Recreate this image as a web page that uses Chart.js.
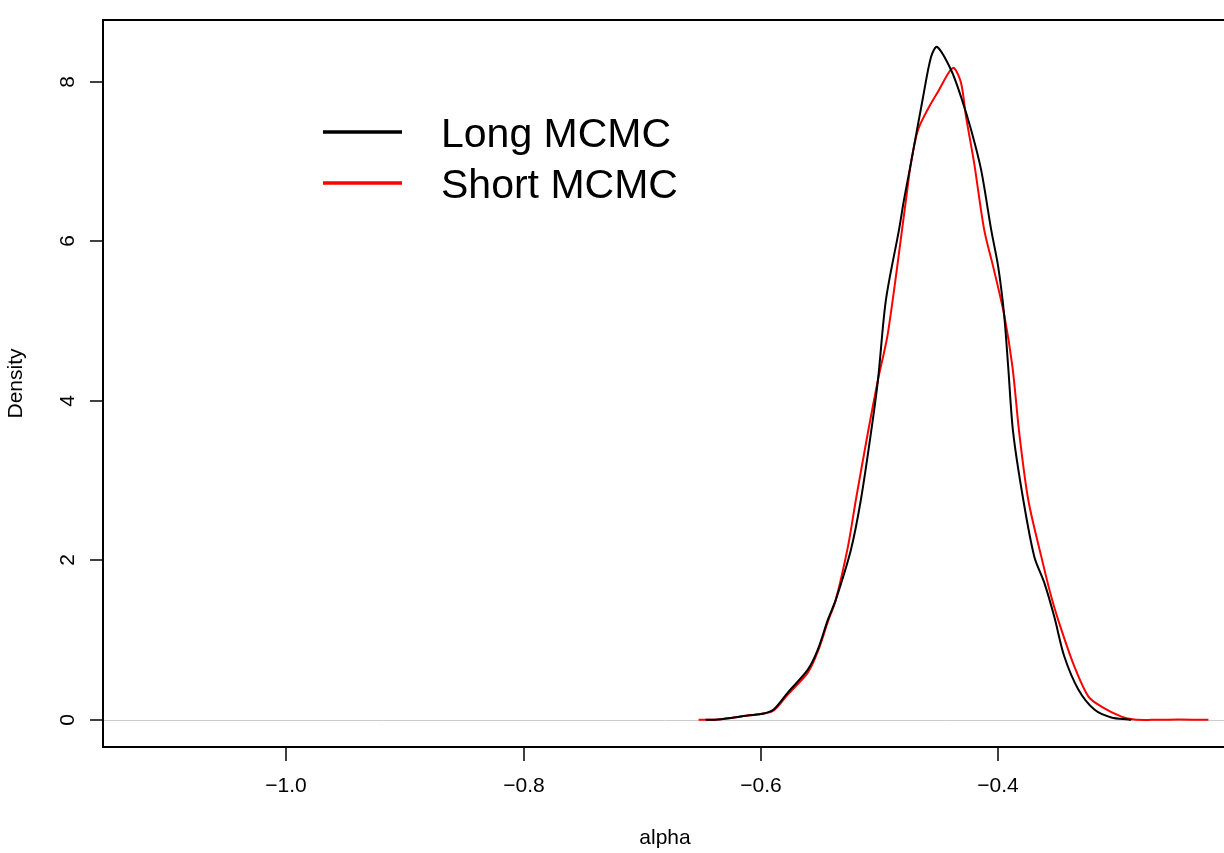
<!DOCTYPE html>
<html>
<head>
<meta charset="utf-8">
<script src="https://cdn.jsdelivr.net/npm/chart.js@4.4.1/dist/chart.umd.min.js"></script>
<style>
  html, body { margin: 0; padding: 0; background: #fff; overflow: hidden; }
  #wrap { position: absolute; left: 0; top: 0; width: 1230px; height: 853px; }
</style>
</head>
<body>
<div id="wrap"><canvas id="c" width="1230" height="853"></canvas></div>
<script>
// ---- data ----
const longAlpha = [-0.6467, -0.6366, -0.6112, -0.5977, -0.5894, -0.5775, -0.5606, -0.5522, -0.5437, -0.5370,
  -0.5243, -0.5159, -0.5074, -0.5015, -0.4948, -0.4838, -0.4796, -0.4737, -0.4635, -0.4568, -0.4517,
  -0.4399, -0.4315, -0.4230, -0.4146, -0.4061, -0.4002, -0.3952, -0.3918, -0.3876, -0.3791, -0.3698,
  -0.3614, -0.3530, -0.3445, -0.3327, -0.3192, -0.3049, -0.2906, -0.2881];
const longDensity = [0, 0.004, 0.054, 0.079, 0.129, 0.342, 0.630, 0.881, 1.257, 1.508,
  2.134, 2.761, 3.601, 4.265, 5.267, 6.145, 6.521, 6.985, 7.812, 8.314, 8.439,
  8.150, 7.812, 7.398, 6.897, 6.145, 5.681, 5.080, 4.428, 3.601, 2.761, 2.047,
  1.721, 1.295, 0.794, 0.381, 0.129, 0.029, 0.004, 0];

const shortAlpha = [-0.6526, -0.6366, -0.6112, -0.5977, -0.5894, -0.5775, -0.5606, -0.5522, -0.5437, -0.5370,
  -0.5268, -0.5201, -0.5100, -0.5015, -0.4931, -0.4779, -0.4737, -0.4678, -0.4585, -0.4501, -0.4416,
  -0.4374, -0.4315, -0.4273, -0.4205, -0.4120, -0.4044, -0.3952, -0.3882, -0.3825, -0.3749, -0.3639,
  -0.3555, -0.3470, -0.3360, -0.3242, -0.3133, -0.2964, -0.2855, -0.2712, -0.2484, -0.2231];
const shortDensity = [0, 0.004, 0.054, 0.079, 0.117, 0.317, 0.593, 0.856, 1.232, 1.508,
  2.172, 2.761, 3.601, 4.265, 4.854, 6.521, 6.985, 7.398, 7.686, 7.899, 8.125,
  8.175, 7.987, 7.561, 6.985, 6.145, 5.681, 5.080, 4.428, 3.601, 2.761, 2.047,
  1.545, 1.132, 0.668, 0.292, 0.167, 0.041, 0.004, 0, 0.006, 0];

const seriesNames = ["Long MCMC", "Short MCMC"];
const seriesColors = ["#000000", "#ff0000"];
const xTickValues = [-1.0, -0.8, -0.6, -0.4];
const yTickValues = [0, 2, 4, 6, 8];
const xTitle = "alpha";
const yTitle = "Density";

const toPts = (xs, ys) => xs.map((x, i) => ({ x: x, y: ys[i] }));
const FONT = "'Liberation Sans', Arial, Helvetica, sans-serif";
const fmtX = v => (v < 0 ? "\u2212" : "") + Math.abs(v).toFixed(1);

const rPlot = {
  id: 'rPlot',
  beforeDatasetsDraw(chart) {
    const { ctx, chartArea: a, scales: { x, y } } = chart;
    ctx.save();
    ctx.strokeStyle = '#cccccc';
    ctx.lineWidth = 1;
    const y0 = Math.round(y.getPixelForValue(0)) + 0.5;
    ctx.beginPath(); ctx.moveTo(a.left, y0); ctx.lineTo(a.right, y0); ctx.stroke();
    ctx.restore();
  },
  afterDraw(chart) {
    const { ctx, chartArea: a, scales: { x, y } } = chart;
    ctx.save();
    // box
    ctx.strokeStyle = '#000'; ctx.lineWidth = 2;
    ctx.strokeRect(a.left, a.top, a.right - a.left, a.bottom - a.top);
    // x ticks
    ctx.lineWidth = 1.5;
    ctx.fillStyle = '#000';
    ctx.font = '21px ' + FONT;
    ctx.textAlign = 'center'; ctx.textBaseline = 'middle';
    xTickValues.forEach(v => {
      const px = Math.round(x.getPixelForValue(v));
      ctx.beginPath(); ctx.moveTo(px, a.bottom); ctx.lineTo(px, a.bottom + 14); ctx.stroke();
      ctx.fillText(fmtX(v), px, 786);
    });
    // y ticks
    yTickValues.forEach(v => {
      const py = Math.round(y.getPixelForValue(v));
      ctx.beginPath(); ctx.moveTo(a.left, py); ctx.lineTo(a.left - 13, py); ctx.stroke();
      ctx.save();
      ctx.translate(68, py); ctx.rotate(-Math.PI / 2);
      ctx.fillText(String(v), 0, 0);
      ctx.restore();
    });
    // axis titles
    ctx.fillText(xTitle, 665, 838);
    ctx.save();
    ctx.translate(16, (a.top + a.bottom) / 2); ctx.rotate(-Math.PI / 2);
    ctx.fillText(yTitle, 0, 0);
    ctx.restore();
    // legend
    const ly = [132, 183];
    ctx.font = '41px ' + FONT;
    ctx.textAlign = 'left'; ctx.textBaseline = 'alphabetic';
    seriesNames.forEach((n, i) => {
      ctx.strokeStyle = seriesColors[i]; ctx.lineWidth = 3.5;
      ctx.beginPath(); ctx.moveTo(323, ly[i]); ctx.lineTo(402, ly[i]); ctx.stroke();
      ctx.fillStyle = '#000';
      ctx.fillText(n, 441, ly[i] + 15);
    });
    ctx.restore();
  }
};

new Chart(document.getElementById('c'), {
  type: 'scatter',
  data: {
    datasets: [
      { label: seriesNames[0], data: toPts(longAlpha, longDensity), showLine: true,
        borderColor: seriesColors[0], borderWidth: 2, pointRadius: 0, tension: 0.3, fill: false },
      { label: seriesNames[1], data: toPts(shortAlpha, shortDensity), showLine: true,
        borderColor: seriesColors[1], borderWidth: 2, pointRadius: 0, tension: 0.3, fill: false }
    ]
  },
  options: {
    responsive: false,
    animation: false,
    layout: { padding: { left: 0, top: 20, right: 4, bottom: 0 } },
    plugins: { legend: { display: false }, tooltip: { enabled: false } },
    elements: { line: { capBezierPoints: true } },
    scales: {
      x: {
        type: 'linear', min: -1.1544, max: -0.2083,
        grid: { display: false }, border: { display: false },
        ticks: { display: false },
        afterFit: s => { s.height = 106; }
      },
      y: {
        type: 'linear', min: -0.3403, max: 8.777,
        grid: { display: false }, border: { display: false },
        ticks: { display: false },
        afterFit: s => { s.width = 103; }
      }
    }
  },
  plugins: [rPlot]
});
</script>
</body>
</html>
